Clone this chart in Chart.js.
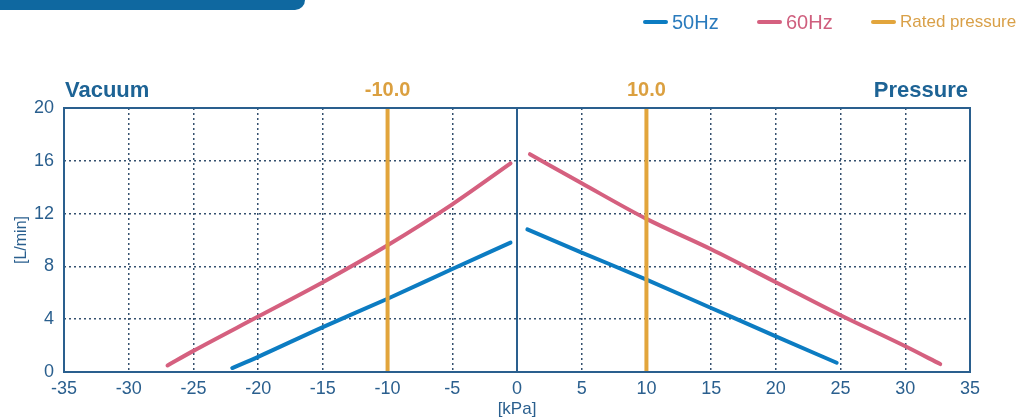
<!DOCTYPE html>
<html>
<head>
<meta charset="utf-8">
<script src="https://cdn.jsdelivr.net/npm/chart.js@4/dist/chart.umd.min.js"></script>
<style>
  html, body { margin: 0; padding: 0; background: #ffffff; }
  #wrap { position: relative; width: 1023px; height: 420px; overflow: hidden; font-family: "Liberation Sans", Arial, sans-serif; }
  #banner { position: absolute; left: 0; top: 0; width: 305px; height: 10px; background: #0f68a0; border-bottom-right-radius: 18px; }
  canvas { position: absolute; left: 0; top: 0; }
  .lg { position: absolute; top: 10px; height: 24px; display: flex; align-items: center; }
  .lg .sw { width: 25px; height: 4px; border-radius: 2px; margin-right: 4px; }
</style>
</head>
<body>
<div id="wrap">
  <div id="banner"></div>
  <canvas id="c" width="1023" height="420"></canvas>
  <div class="lg" style="left:643px;"><div class="sw" style="background:#0c7cc2"></div><span style="color:#2a7bbd;font-size:20px;">50Hz</span></div>
  <div class="lg" style="left:757px;"><div class="sw" style="background:#d5607f"></div><span style="color:#cf5f7e;font-size:20px;">60Hz</span></div>
  <div class="lg" style="left:871px;"><div class="sw" style="background:#e2a53c"></div><span style="color:#d9a048;font-size:17px;">Rated pressure</span></div>
</div>
<script>
// ---- Data ----
const xTicks = [-35, -30, -25, -20, -15, -10, -5, 0, 5, 10, 15, 20, 25, 30, 35];
const yTicks = [0, 4, 8, 12, 16, 20];

const kpa50Vac  = [-22, -20, -15, -10, -5, -0.5];
const flow50Vac = [0.3, 1.15, 3.4, 5.55, 7.8, 9.8];

const kpa60Vac  = [-27, -25, -20, -15, -10, -5, -0.5];
const flow60Vac = [0.5, 1.6, 4.2, 6.8, 9.6, 12.7, 15.8];

const kpa50Pres  = [0.8, 5, 10, 15, 20, 24.7];
const flow50Pres = [10.8, 9.05, 7.0, 4.85, 2.7, 0.7];

const kpa60Pres  = [1, 5, 10, 15, 20, 25, 30, 32.7];
const flow60Pres = [16.5, 14.3, 11.6, 9.3, 6.8, 4.3, 1.95, 0.6];

const ratedKpa = [-10, 10];
const ratedLabels = ["-10.0", "10.0"];

// ---- Build ----
const zip = (xs, ys) => xs.map((x, i) => ({ x: x, y: ys[i] }));
const C50 = '#0c7cc2', C60 = '#d5607f', CR = '#e2a53c', AX = '#2a5f8e';

const lineDs = (data, color) => ({
  data: data, borderColor: color, borderWidth: 4, showLine: true, pointRadius: 0,
  tension: 0.3, cubicInterpolationMode: 'monotone', borderCapStyle: 'round', fill: false
});

const datasets = [
  ...ratedKpa.map(k => ({ data: [{ x: k, y: yTicks[0] }, { x: k, y: yTicks[yTicks.length - 1] }], borderColor: CR, borderWidth: 4, showLine: true, pointRadius: 0 })),
  { data: [{ x: 0, y: yTicks[0] }, { x: 0, y: yTicks[yTicks.length - 1] }], borderColor: AX, borderWidth: 2, showLine: true, pointRadius: 0 },
  lineDs(zip(kpa50Vac, flow50Vac), C50),
  lineDs(zip(kpa60Vac, flow60Vac), C60),
  lineDs(zip(kpa50Pres, flow50Pres), C50),
  lineDs(zip(kpa60Pres, flow60Pres), C60)
];

const overlay = {
  id: 'overlay',
  afterDatasetsDraw(chart) {
    const { ctx, chartArea: a, scales } = chart;
    ctx.save();
    ctx.strokeStyle = AX; ctx.lineWidth = 2;
    ctx.strokeRect(a.left, a.top, a.right - a.left, a.bottom - a.top);
    ctx.textBaseline = 'middle';
    ctx.fillStyle = '#1d6395';
    ctx.font = 'bold 22px "Liberation Sans", Arial, sans-serif';
    ctx.textAlign = 'left';
    ctx.fillText('Vacuum', a.left + 1, a.top - 17);
    ctx.textAlign = 'right';
    ctx.fillText('Pressure', a.right - 2, a.top - 17);
    ctx.fillStyle = '#dba040';
    ctx.font = 'bold 20px "Liberation Sans", Arial, sans-serif';
    ctx.textAlign = 'center';
    ratedKpa.forEach((k, i) => ctx.fillText(ratedLabels[i], scales.x.getPixelForValue(k), a.top - 18));
    ctx.restore();
  }
};

new Chart(document.getElementById('c'), {
  type: 'scatter',
  data: { datasets: datasets },
  plugins: [overlay],
  options: {
    responsive: false, animation: false,
    layout: { padding: { left: 0, right: 53, top: 108, bottom: 0 } },
    plugins: { legend: { display: false }, tooltip: { enabled: false } },
    scales: {
      x: {
        type: 'linear', min: xTicks[0], max: xTicks[xTicks.length - 1],
        afterBuildTicks: s => { s.ticks = xTicks.map(v => ({ value: v })); },
        afterFit: s => { s.height = 48; },
        ticks: { color: AX, font: { family: '"Liberation Sans", Arial, sans-serif', size: 18 }, padding: 6, maxRotation: 0, autoSkip: false },
        grid: { color: '#34506e', lineWidth: 1.5, drawTicks: false },
        border: { display: false, dash: [2, 3] },
        title: { display: true, text: '[kPa]', color: AX, font: { family: '"Liberation Sans", Arial, sans-serif', size: 17 }, padding: { top: 0, bottom: 0 } }
      },
      y: {
        type: 'linear', min: yTicks[0], max: yTicks[yTicks.length - 1],
        afterBuildTicks: s => { s.ticks = yTicks.map(v => ({ value: v })); },
        afterFit: s => { s.width = 64; },
        ticks: { color: AX, font: { family: '"Liberation Sans", Arial, sans-serif', size: 18 }, padding: 10 },
        grid: { color: '#34506e', lineWidth: 1.5, drawTicks: false },
        border: { display: false, dash: [2, 3] },
        title: { display: true, text: '[L/min]', color: AX, font: { family: '"Liberation Sans", Arial, sans-serif', size: 16 }, padding: { top: 12, bottom: 0 } }
      }
    }
  }
});
</script>
</body>
</html>
